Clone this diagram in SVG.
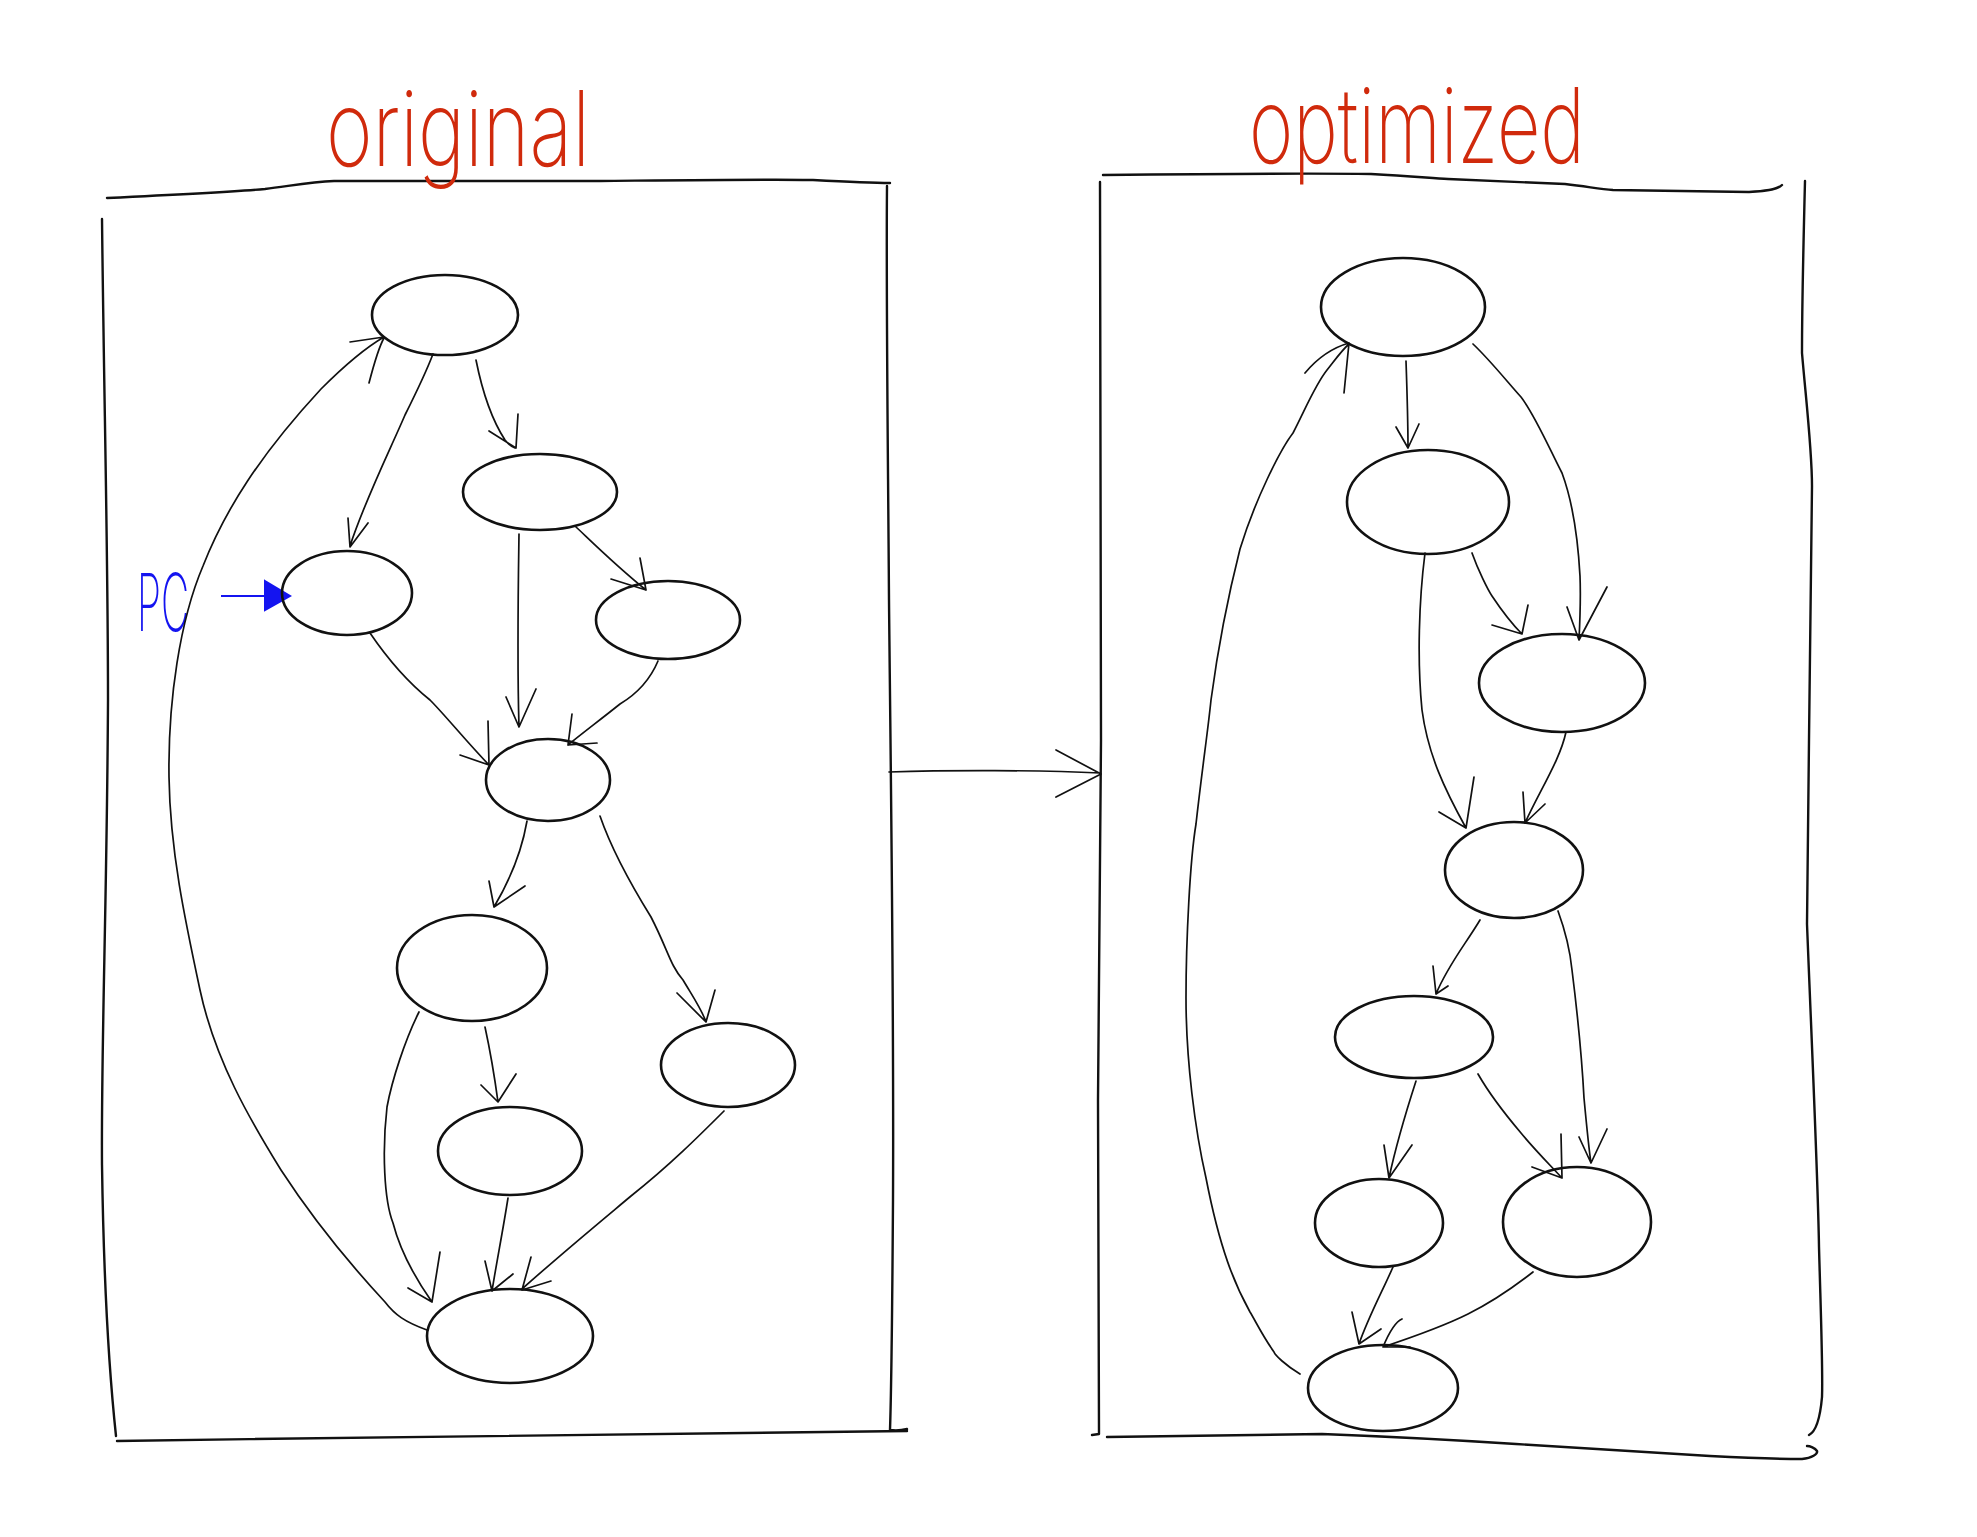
<svg xmlns="http://www.w3.org/2000/svg" width="1977" height="1537" viewBox="0 0 1977 1537">
<style>
.frame{fill:none;stroke:#111;stroke-width:2.4;stroke-linecap:round;stroke-linejoin:round}
.node{fill:none;stroke:#111;stroke-width:2.6}
.edge{fill:none;stroke:#111;stroke-width:1.7;stroke-linecap:round;stroke-linejoin:round}
.title{fill:#d02a0c;font-family:Inter,Roboto,"Liberation Sans",sans-serif;font-weight:200;font-size:105px}
.pc{fill:#1414f0;font-family:Inter,Roboto,"Liberation Sans",sans-serif;font-weight:200;font-size:80px}
</style>
<rect width="1977" height="1537" fill="#fff"/>
<g id="original-box">
<path class="frame" d="M107,198 C170,195 230,192 265,189 C290,186 310,182 334,181 L600,181 C700,180 780,179 813,180 C850,182 870,183 890,183"/>
<path class="frame" d="M887,186 C886,300 888,450 889,600 C891,800 894,1000 893,1200 C892,1350 891,1400 890,1430 C898,1431 903,1430 907,1429"/>
<path class="frame" d="M102,219 C104,400 108,550 108,700 C107,900 101,1050 102,1165 C104,1300 110,1380 116,1436"/>
<path class="frame" d="M117,1441 C400,1437 700,1432 907,1431"/>
<text class="title" x="326" y="166" textLength="264" lengthAdjust="spacingAndGlyphs">original</text>
</g>
<g id="optimized-box">
<path class="frame" d="M1103,175 C1200,174 1300,173 1371,174 C1410,176 1430,178 1448,179 C1500,181 1540,183 1565,184 C1590,187 1600,189 1613,190 C1680,191 1720,192 1749,192 C1770,191 1778,189 1782,185"/>
<path class="frame" d="M1100,182 C1101,400 1102,600 1101,740 C1100,900 1098,1000 1098,1100 C1098,1250 1099,1380 1099,1434 L1092,1435"/>
<path class="frame" d="M1805,181 C1803,260 1802,320 1802,353 C1806,400 1812,450 1812,486 C1811,600 1809,700 1809,740 C1808,850 1807,900 1807,924 C1812,1050 1818,1180 1819,1247 C1821,1320 1823,1370 1822,1397 C1820,1420 1815,1432 1809,1435"/>
<path class="frame" d="M1107,1437 C1200,1436 1280,1434 1322,1434 C1400,1437 1470,1441 1516,1444 C1600,1449 1660,1453 1710,1456 C1750,1458 1780,1459 1802,1459 C1812,1458 1818,1454 1817,1451 C1815,1448 1810,1446 1807,1446"/>
<text class="title" x="1249" y="163" textLength="336" lengthAdjust="spacingAndGlyphs">optimized</text>
</g>
<g id="pc-label">
<text class="pc" x="137" y="631" textLength="52" lengthAdjust="spacingAndGlyphs">PC</text>
<path d="M221,596 L270,596" fill="none" stroke="#1414f0" stroke-width="2.2"/>
<path d="M265,581 L290,596 L265,610 Z" fill="#1414f0" stroke="#1414f0" stroke-width="2"/>
</g>
<g id="L1"><ellipse class="node" cx="445" cy="315" rx="73" ry="40"/></g>
<g id="L2"><ellipse class="node" cx="540" cy="492" rx="77" ry="38"/></g>
<g id="L3"><ellipse class="node" cx="347" cy="593" rx="65" ry="42"/></g>
<g id="L4"><ellipse class="node" cx="668" cy="620" rx="72" ry="39"/></g>
<g id="L5"><ellipse class="node" cx="548" cy="780" rx="62" ry="41"/></g>
<g id="L6"><ellipse class="node" cx="472" cy="968" rx="75" ry="53"/></g>
<g id="L7"><ellipse class="node" cx="728" cy="1065" rx="67" ry="42"/></g>
<g id="L8"><ellipse class="node" cx="510" cy="1151" rx="72" ry="44"/></g>
<g id="L9"><ellipse class="node" cx="510" cy="1336" rx="83" ry="47"/></g>
<g id="R1"><ellipse class="node" cx="1403" cy="307" rx="82" ry="49"/></g>
<g id="R2"><ellipse class="node" cx="1428" cy="502" rx="81" ry="52"/></g>
<g id="R3"><ellipse class="node" cx="1562" cy="683" rx="83" ry="49"/></g>
<g id="R4"><ellipse class="node" cx="1514" cy="870" rx="69" ry="48"/></g>
<g id="R5"><ellipse class="node" cx="1414" cy="1037" rx="79" ry="41"/></g>
<g id="R6"><ellipse class="node" cx="1379" cy="1223" rx="64" ry="44"/></g>
<g id="R7"><ellipse class="node" cx="1577" cy="1222" rx="74" ry="55"/></g>
<g id="R8"><ellipse class="node" cx="1383" cy="1388" rx="75" ry="43"/></g>
<g id="connectors">
<path class="edge" d="M889,772 C950,770 1040,770 1100,773 M1056,750 L1101,774 L1056,797"/>
<path class="edge" d="M433,354 C425,375 415,395 405,415 C390,450 365,500 350,546 M348,518 L350,547 L368,523"/>
<path class="edge" d="M476,360 C482,390 492,420 505,440 C509,445 512,447 515,448 M489,431 L516,448 L518,414"/>
<path class="edge" d="M427,1330 C405,1322 395,1315 385,1302 C360,1275 320,1230 281,1170 C250,1120 215,1060 200,990 C185,920 170,850 169,777 C168,700 180,620 203,566 C225,510 260,455 321,389 C345,365 365,348 384,337 M350,342 L384,337 M369,383 C375,360 380,345 384,338"/>
<path class="edge" d="M519,534 C518,600 517,660 519,727 M506,697 L519,727 L536,689"/>
<path class="edge" d="M575,526 C590,540 615,565 646,590 M611,579 L646,590 L640,558"/>
<path class="edge" d="M370,633 C385,655 405,680 430,700 C445,715 465,740 489,765 M460,755 L489,765 L488,721"/>
<path class="edge" d="M658,661 C650,680 635,695 620,704 C600,720 580,735 568,745 M572,714 L568,745 L597,743"/>
<path class="edge" d="M527,821 C522,850 510,880 494,907 M489,881 L494,907 L525,886"/>
<path class="edge" d="M600,816 C610,845 625,875 651,917 C668,950 670,965 683,980 C695,1000 702,1010 706,1022 M677,993 L706,1022 L715,990"/>
<path class="edge" d="M485,1027 C490,1050 495,1080 498,1102 M481,1085 L498,1102 L516,1074"/>
<path class="edge" d="M419,1012 C405,1040 392,1080 387,1107 C382,1150 384,1200 393,1223 C400,1250 413,1275 432,1302 M408,1288 L432,1302 L440,1252"/>
<path class="edge" d="M508,1198 C503,1230 497,1260 492,1291 M485,1261 L492,1291 L513,1274"/>
<path class="edge" d="M724,1111 C700,1135 670,1165 631,1196 C600,1222 560,1255 522,1289 M531,1257 L522,1290 L551,1281"/>
<path class="edge" d="M1406,361 C1407,390 1408,420 1408,448 M1396,427 L1408,448 L1419,424"/>
<path class="edge" d="M1473,344 C1490,360 1510,385 1521,397 C1535,415 1550,450 1562,473 C1572,500 1578,540 1580,576 C1581,600 1580,620 1579,640 M1567,607 L1579,640 L1607,587"/>
<path class="edge" d="M1472,553 C1478,570 1488,590 1492,596 C1500,608 1510,622 1522,634 M1492,625 L1522,634 L1528,605"/>
<path class="edge" d="M1300,1374 C1285,1365 1275,1355 1274,1352 C1262,1335 1255,1320 1250,1312 C1235,1285 1220,1250 1206,1178 C1195,1130 1186,1060 1186,998 C1186,940 1190,860 1196,824 C1202,770 1208,730 1211,700 C1215,670 1222,620 1240,549 C1255,500 1280,450 1293,433 C1305,410 1315,385 1327,370 C1335,360 1342,350 1349,344 M1305,373 C1320,355 1335,347 1349,343 L1344,393"/>
<path class="edge" d="M1425,553 C1419,600 1417,660 1422,710 C1428,755 1445,790 1466,828 M1439,812 L1466,828 L1474,777"/>
<path class="edge" d="M1566,732 C1560,760 1540,790 1525,823 M1523,792 L1525,823 L1545,804"/>
<path class="edge" d="M1480,920 C1465,945 1448,965 1436,994 M1433,966 L1436,994 L1448,986"/>
<path class="edge" d="M1558,911 C1565,930 1570,950 1572,970 C1577,1010 1582,1060 1584,1098 C1587,1130 1589,1150 1591,1163 M1579,1137 L1591,1163 L1607,1129"/>
<path class="edge" d="M1416,1081 C1405,1115 1395,1150 1389,1178 M1384,1145 L1389,1178 L1412,1145"/>
<path class="edge" d="M1478,1074 C1490,1095 1510,1120 1521,1133 C1535,1150 1550,1165 1562,1178 M1532,1167 L1562,1178 L1561,1134"/>
<path class="edge" d="M1393,1267 C1382,1292 1368,1318 1359,1344 M1352,1312 L1359,1344 L1381,1329"/>
<path class="edge" d="M1533,1272 C1510,1290 1490,1303 1468,1314 C1440,1328 1410,1338 1383,1347 M1402,1319 C1395,1322 1388,1335 1383,1347 L1410,1347"/>
</g>
</svg>
